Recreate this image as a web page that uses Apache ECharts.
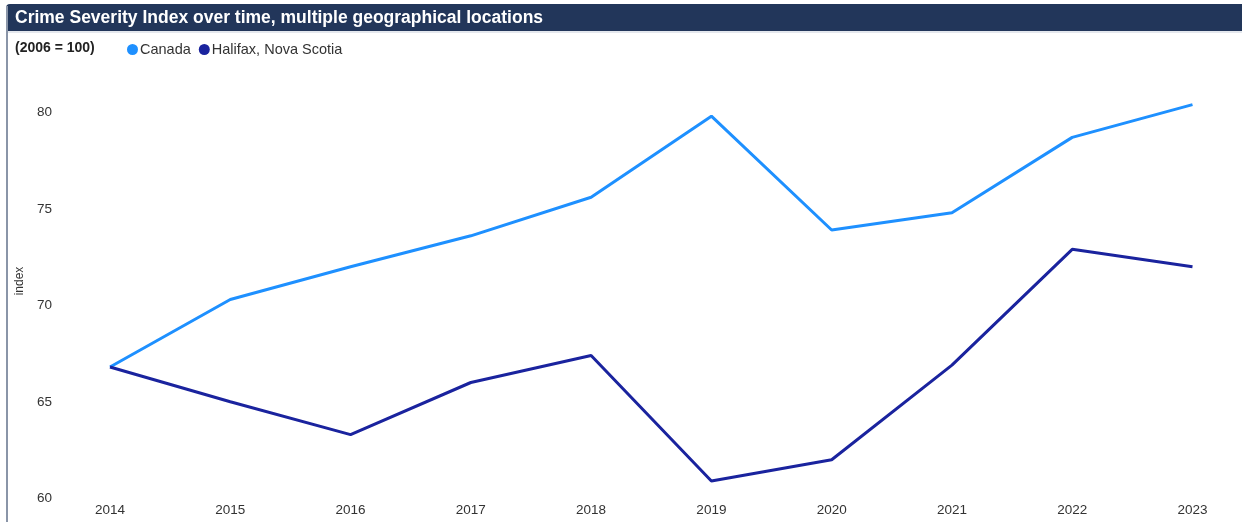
<!DOCTYPE html>
<html><head><meta charset="utf-8">
<script src="https://cdn.jsdelivr.net/npm/echarts@6/dist/echarts.min.js"></script>
<style>html,body{margin:0;padding:0;background:#fff}#c{width:1242px;height:527px}</style>
</head><body><div id="c"></div>
<script>
const years = ['2014','2015','2016','2017','2018','2019','2020','2021','2022','2023'];
const canada = [66.8, 70.3, 72.0, 73.6, 75.6, 79.8, 73.9, 74.8, 78.7, 80.4];
const halifax = [66.8, 65.0, 63.3, 66.0, 67.4, 60.9, 62.0, 66.9, 72.9, 72.0];
const yTicks = {min: 60, max: 81, interval: 5};
const FONT = '"Liberation Sans", Arial, sans-serif';

const chart = echarts.init(document.getElementById('c'), null, {renderer: 'canvas'});
chart.setOption({
  animation: false,
  backgroundColor: '#fff',
  graphic: [
    {type: 'rect', left: 6, top: 4, shape: {width: 1240, height: 27, r: [4, 0, 0, 0]}, style: {fill: '#22365a'}, z: 0},
    {type: 'line', shape: {x1: 6, y1: 32, x2: 1242, y2: 32}, style: {stroke: '#c9d0dc', lineWidth: 1}},
    {type: 'line', shape: {x1: 7, y1: 6, x2: 7, y2: 522}, style: {stroke: '#8a95a8', lineWidth: 2}},
    {type: 'text', x: 15, y: 18, style: {text: 'Crime Severity Index over time, multiple geographical locations', fill: '#fff', font: 'bold 17.5px ' + FONT, verticalAlign: 'middle'}, z: 5},
    {type: 'text', x: 15, y: 48.5, style: {text: '(2006 = 100)', fill: '#222', font: 'bold 14px ' + FONT, verticalAlign: 'middle'}},
    {type: 'text', x: 20, y: 281, rotation: Math.PI / 2, style: {text: 'index', fill: '#333', font: '12px ' + FONT, align: 'center', verticalAlign: 'middle'}}
  ],
  legend: {
    left: 127, top: 42, padding: 0, icon: 'circle', itemWidth: 11, itemHeight: 11, itemGap: 8,
    textStyle: {color: '#333', fontSize: 14.5, fontFamily: FONT, padding: [0, 0, 0, -3]},
    data: ['Canada', 'Halifax, Nova Scotia']
  },
  grid: {left: 110, right: 49.5, top: 93, bottom: 28.7, containLabel: false},
  xAxis: {
    type: 'category', data: years, boundaryGap: false,
    axisLine: {show: false}, axisTick: {show: false}, splitLine: {show: false},
    axisLabel: {color: '#333', fontSize: 13.5, margin: 5, fontFamily: FONT}
  },
  yAxis: {
    type: 'value', min: yTicks.min, max: yTicks.max, interval: yTicks.interval,
    axisLine: {show: false}, axisTick: {show: false}, splitLine: {show: false},
    axisLabel: {color: '#333', fontSize: 13.5, align: 'left', margin: 73, showMaxLabel: false, fontFamily: FONT}
  },
  series: [
    {name: 'Canada', type: 'line', data: canada, symbol: 'none', lineStyle: {width: 3, color: '#1e90ff'}, itemStyle: {color: '#1e90ff'}},
    {name: 'Halifax, Nova Scotia', type: 'line', data: halifax, symbol: 'none', lineStyle: {width: 3, color: '#1a239e'}, itemStyle: {color: '#1a239e'}}
  ]
});
</script></body></html>
